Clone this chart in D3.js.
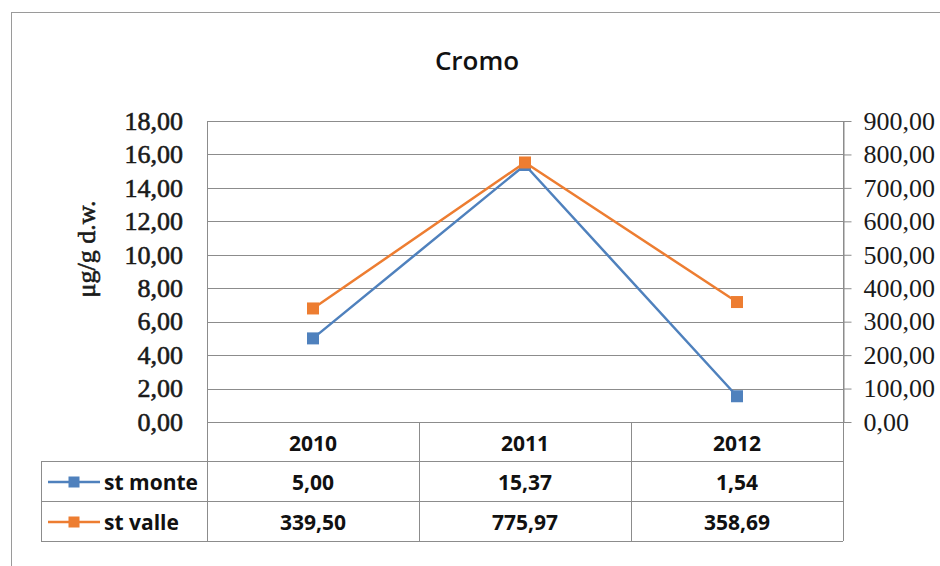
<!DOCTYPE html>
<html>
<head>
<meta charset="utf-8">
<script src="https://cdn.jsdelivr.net/npm/d3@7"></script>
<style>
  html, body { margin: 0; padding: 0; background: #fff; }
  svg { display: block; }
</style>
</head>
<body>
<svg id="chart" width="940" height="566"></svg>
<script>
// Chromium concentrations per station and year
const years = ["2010", "2011", "2012"];
const seriesNames = ["st monte", "st valle"];
const stMonte = [5.00, 15.37, 1.54];      // left axis
const stValle = [339.50, 775.97, 358.69]; // right axis
const leftTicks = [0, 2, 4, 6, 8, 10, 12, 14, 16, 18];
const rightTicks = [0, 100, 200, 300, 400, 500, 600, 700, 800, 900];
const colors = ["#4F81BD", "#ED7D31"];

const fmt = v => d3.format(".2f")(v).replace(".", ",");

const svg = d3.select("#chart");
const plot = { left: 207, right: 843, top: 121, bottom: 422 };
const tableLeft = 41;
const gridColor = "#8c8c8c";

// outer chart frame
svg.append("rect")
  .attr("x", 11.5).attr("y", 12.5)
  .attr("width", 960).attr("height", 600)
  .attr("fill", "none").attr("stroke", "#9a9a9a").attr("stroke-width", 1);

// title
svg.append("text")
  .attr("x", 477).attr("y", 70)
  .attr("text-anchor", "middle")
  .attr("font-family", "'Open Sans', sans-serif")
  .attr("font-weight", 600)
  .attr("font-size", 26)
  .attr("fill", "#111")
  .text("Cromo");

const x = d3.scaleBand().domain(years).range([plot.left, plot.right]);
const yL = d3.scaleLinear().domain([0, 18]).range([plot.bottom, plot.top]);
const yR = d3.scaleLinear().domain([0, 900]).range([plot.bottom, plot.top]);

// horizontal gridlines
svg.append("g").selectAll("line")
  .data(leftTicks)
  .join("line")
  .attr("x1", plot.left).attr("x2", plot.right)
  .attr("y1", d => Math.round(yL(d)) + 0.5).attr("y2", d => Math.round(yL(d)) + 0.5)
  .attr("stroke", gridColor).attr("stroke-width", 1);

// left axis (labels only)
const gL = svg.append("g")
  .attr("transform", `translate(${plot.left},0)`)
  .call(d3.axisLeft(yL).tickValues(leftTicks).tickFormat(fmt).tickSize(0).tickPadding(24));
gL.select(".domain").remove();
gL.selectAll("text")
  .attr("font-family", "'Liberation Serif', serif")
  .attr("font-size", 26)
  .attr("fill", "#1a1a1a")
  .attr("stroke", "#1a1a1a")
  .attr("stroke-width", 0.6);

// right axis
const gR = svg.append("g")
  .attr("transform", `translate(${plot.right + 0.5},0)`)
  .call(d3.axisRight(yR).tickValues(rightTicks).tickFormat(fmt).tickSize(8).tickSizeOuter(0).tickPadding(12));
gR.select(".domain").attr("stroke", gridColor);
gR.selectAll(".tick line").attr("stroke", gridColor);
gR.selectAll("text")
  .attr("font-family", "'Liberation Serif', serif")
  .attr("font-size", 26)
  .attr("fill", "#1a1a1a");

// left axis title
svg.append("text")
  .attr("transform", `translate(95,${249}) rotate(-90)`)
  .attr("text-anchor", "middle")
  .attr("font-family", "'Liberation Serif', serif")
  .attr("font-size", 26)
  .attr("fill", "#1a1a1a")
  .attr("stroke", "#1a1a1a")
  .attr("stroke-width", 0.6)
  .text("μg/g d.w.");

// data table grid
const rowTop = [plot.bottom, plot.bottom + 39, plot.bottom + 79, plot.bottom + 119];
const tbl = svg.append("g").attr("stroke", gridColor).attr("stroke-width", 1);
tbl.append("line").attr("x1", plot.left).attr("x2", plot.right)
  .attr("y1", rowTop[0] + 0.5).attr("y2", rowTop[0] + 0.5);
rowTop.slice(1).forEach(y => {
  tbl.append("line").attr("x1", tableLeft).attr("x2", plot.right)
    .attr("y1", y + 0.5).attr("y2", y + 0.5);
});
tbl.append("line").attr("x1", tableLeft + 0.5).attr("x2", tableLeft + 0.5)
  .attr("y1", rowTop[1]).attr("y2", rowTop[3]);
tbl.append("line").attr("x1", plot.left + 0.5).attr("x2", plot.left + 0.5)
  .attr("y1", plot.top).attr("y2", rowTop[3]);
years.slice(1).forEach(yr => {
  const xx = Math.round(x(yr)) + 0.5;
  tbl.append("line").attr("x1", xx).attr("x2", xx)
    .attr("y1", rowTop[0]).attr("y2", rowTop[3]);
});
tbl.append("line").attr("x1", plot.right + 0.5).attr("x2", plot.right + 0.5)
  .attr("y1", plot.top).attr("y2", rowTop[3]);

const tableFont = sel => sel
  .attr("font-family", "'Open Sans', sans-serif")
  .attr("font-weight", 700)
  .attr("font-size", 21)
  .attr("fill", "#111")
  .attr("dominant-baseline", "central");

// header row: years
svg.append("g").selectAll("text")
  .data(years)
  .join("text")
  .attr("x", d => x(d) + x.bandwidth() / 2)
  .attr("y", (rowTop[0] + rowTop[1]) / 2 + 1)
  .attr("text-anchor", "middle")
  .call(tableFont)
  .text(d => d);

// value rows with legend keys
const rows = [stMonte, stValle];
rows.forEach((vals, i) => {
  const cy = (rowTop[i + 1] + rowTop[i + 2]) / 2 + 1;
  const g = svg.append("g");
  g.append("line")
    .attr("x1", 48).attr("x2", 100).attr("y1", cy).attr("y2", cy)
    .attr("stroke", colors[i]).attr("stroke-width", 2.5);
  g.append("rect")
    .attr("x", 74 - 5.5).attr("y", cy - 5.5).attr("width", 11).attr("height", 11)
    .attr("fill", colors[i]);
  g.append("text")
    .attr("x", 104).attr("y", cy)
    .call(tableFont)
    .text(seriesNames[i]);
  g.selectAll("text.val")
    .data(vals)
    .join("text")
    .attr("class", "val")
    .attr("x", (d, j) => x(years[j]) + x.bandwidth() / 2)
    .attr("y", cy)
    .attr("text-anchor", "middle")
    .call(tableFont)
    .text(d => fmt(d));
});

// series lines and markers
const series = [
  { vals: stMonte, y: yL, color: colors[0] },
  { vals: stValle, y: yR, color: colors[1] }
];
series.forEach(s => {
  const pts = s.vals.map((v, j) => [x(years[j]) + x.bandwidth() / 2, s.y(v)]);
  svg.append("path")
    .attr("d", d3.line()(pts))
    .attr("fill", "none")
    .attr("stroke", s.color)
    .attr("stroke-width", 2.5)
    .attr("stroke-linejoin", "round");
  svg.append("g").selectAll("rect")
    .data(pts)
    .join("rect")
    .attr("x", d => d[0] - 6).attr("y", d => d[1] - 6)
    .attr("width", 12).attr("height", 12)
    .attr("fill", s.color);
});
</script>
</body>
</html>
